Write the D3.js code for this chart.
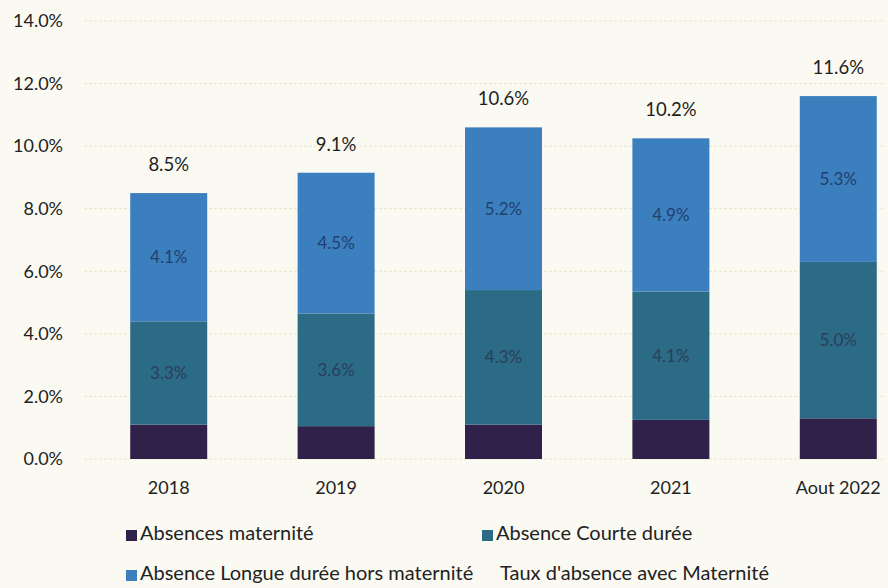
<!DOCTYPE html>
<html lang="fr">
<head>
<meta charset="UTF-8">
<title>Taux d'absence</title>
<script src="https://cdn.jsdelivr.net/npm/d3@7"></script>
<style>
  body { margin: 0; background: #fbfaf2; }
  svg { display: block; font-family: Lato, "Open Sans", sans-serif; }
</style>
</head>
<body>
<svg width="888" height="588"></svg>
<script>
// données (en %)
var categories = ['2018', '2019', '2020', '2021', 'Aout 2022'];
var maternite = [1.1, 1.05, 1.1, 1.25, 1.3];
var courte = [3.3, 3.6, 4.3, 4.1, 5.0];
var longue = [4.1, 4.5, 5.2, 4.9, 5.3];
var totalLabels = ['8.5%', '9.1%', '10.6%', '10.2%', '11.6%'];
var courteLabels = ['3.3%', '3.6%', '4.3%', '4.1%', '5.0%'];
var longueLabels = ['4.1%', '4.5%', '5.2%', '4.9%', '5.3%'];
var yTicks = [0, 2, 4, 6, 8, 10, 12, 14];

var seriesNames = ['Absences maternité', 'Absence Courte durée', 'Absence Longue durée hors maternité'];
var colors = ['#2f2149', '#2b6b86', '#3b7fbf'];

var svg = d3.select('svg');

var x = d3.scaleBand().domain(categories).range([80, 927]).paddingInner(0.54).paddingOuter(0.3);
var y = d3.scaleLinear().domain([0, 14]).range([459, 21]);

// grille
svg.append('g').selectAll('line')
  .data(yTicks)
  .enter().append('line')
  .attr('x1', 84).attr('x2', 885)
  .attr('y1', function(d) { return y(d); })
  .attr('y2', function(d) { return y(d); })
  .attr('stroke', '#e9e4c6')
  .attr('stroke-width', 1)
  .attr('stroke-dasharray', '3,2');

// axe y
var yAxis = d3.axisLeft(y).tickValues(yTicks).tickSize(0).tickPadding(0)
  .tickFormat(function(d) { return d.toFixed(1) + '%'; });
svg.append('g').attr('transform', 'translate(63,0)').call(yAxis)
  .call(function(g) { g.select('.domain').remove(); })
  .selectAll('text').attr('font-size', 18).attr('fill', '#222').attr('font-family', 'Lato, sans-serif');

// empilement
var rows = categories.map(function(c, i) {
  return { cat: c, m: maternite[i], c: courte[i], l: longue[i] };
});
var stack = d3.stack().keys(['m', 'c', 'l']);
var stacked = stack(rows);

svg.append('g').selectAll('g')
  .data(stacked)
  .enter().append('g')
  .attr('fill', function(d, i) { return colors[i]; })
  .selectAll('rect')
  .data(function(d) { return d; })
  .enter().append('rect')
  .attr('x', function(d) { return x(d.data.cat); })
  .attr('width', x.bandwidth())
  .attr('y', function(d) { return y(d[1]); })
  .attr('height', function(d) { return y(d[0]) - y(d[1]); });

// étiquettes dans les barres
var inner = svg.append('g').attr('font-size', 17).attr('fill', '#22406c').attr('text-anchor', 'middle');
stacked[1].forEach(function(d, i) {
  inner.append('text')
    .attr('x', x(d.data.cat) + x.bandwidth() / 2)
    .attr('y', y((d[0] + d[1]) / 2) + 6)
    .attr('fill', '#2c3d5c')
    .text(courteLabels[i]);
});
stacked[2].forEach(function(d, i) {
  inner.append('text')
    .attr('x', x(d.data.cat) + x.bandwidth() / 2)
    .attr('y', y((d[0] + d[1]) / 2) + 6)
    .text(longueLabels[i]);
});

// totaux
stacked[2].forEach(function(d, i) {
  svg.append('text')
    .attr('x', x(d.data.cat) + x.bandwidth() / 2)
    .attr('y', y(d[1]) - 22)
    .attr('text-anchor', 'middle')
    .attr('font-size', 18.5)
    .attr('fill', '#1e1e1e')
    .text(totalLabels[i]);
});

// axe x
var xAxis = d3.axisBottom(x).tickSize(0).tickPadding(0);
svg.append('g').attr('transform', 'translate(0,494)').call(xAxis)
  .call(function(g) { g.select('.domain').remove(); })
  .selectAll('text').attr('font-size', 18).attr('fill', '#222').attr('font-family', 'Lato, sans-serif')
  .attr('dy', 0);

// légende
var legendItems = [
  { name: seriesNames[0], color: colors[0], x: 126, y: 540 },
  { name: seriesNames[1], color: colors[1], x: 482, y: 540 },
  { name: seriesNames[2], color: colors[2], x: 126, y: 580 },
  { name: "Taux d'absence avec Maternité", color: null, x: 482, y: 580 }
];
var lg = svg.append('g').selectAll('g').data(legendItems).enter().append('g')
  .attr('transform', function(d) { return 'translate(' + d.x + ',' + d.y + ')'; });
lg.filter(function(d) { return d.color; }).append('rect')
  .attr('x', 0).attr('y', -10).attr('width', 11).attr('height', 11)
  .attr('fill', function(d) { return d.color; });
lg.append('text')
  .attr('x', function(d) { return d.color ? 14 : 18; })
  .attr('y', 0)
  .attr('font-size', 20)
  .attr('fill', '#222')
  .text(function(d) { return d.name; });
</script>
</body>
</html>
